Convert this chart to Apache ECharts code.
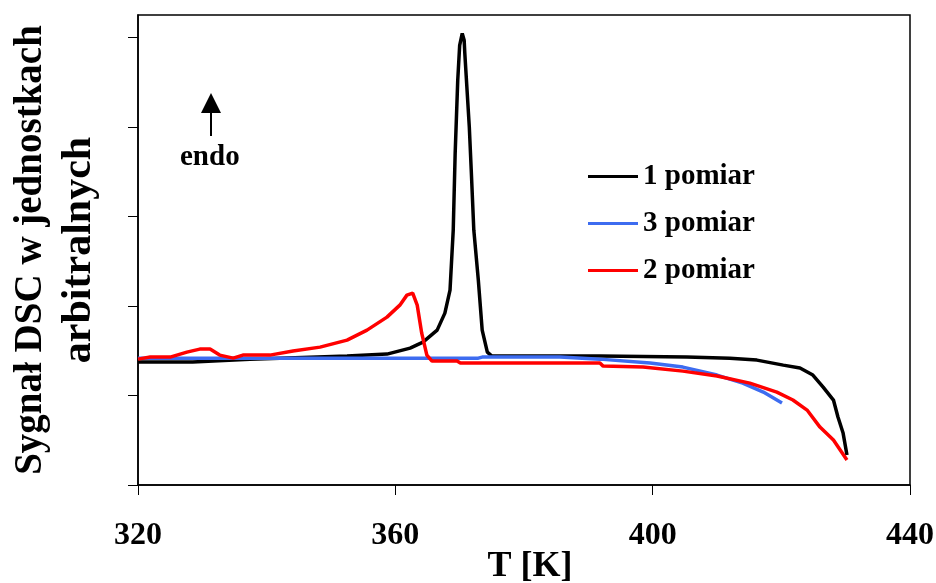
<!DOCTYPE html>
<html>
<head>
<meta charset="utf-8">
<script src="https://cdn.jsdelivr.net/npm/echarts@6/dist/echarts.min.js"></script>
<style>
  html, body { margin: 0; padding: 0; background: #fff; }
  #chart { width: 936px; height: 583px; }
</style>
</head>
<body>
<div id="chart"></div>
<script>
var serif = "'Liberation Serif', 'Times New Roman', serif";

// T [K], signal (arbitrary units)
var pomiar1 = [
  [320, 1.373], [328.5, 1.373], [337.4, 1.406], [352.5, 1.44], [358.7, 1.462],
  [362.3, 1.529], [364.3, 1.596], [366.5, 1.73], [367.7, 1.92], [368.5, 2.176],
  [369.0, 2.846], [369.3, 3.705], [369.7, 4.52], [370.0, 4.91], [370.4, 5.045],
  [370.7, 4.967], [370.8, 4.821], [371.5, 3.996], [371.8, 3.516], [372.2, 2.846],
  [372.9, 2.288], [373.5, 1.73], [374.3, 1.484], [375.0, 1.44], [391.8, 1.44],
  [405.3, 1.429], [412.0, 1.417], [416.2, 1.395], [420.3, 1.339], [422.9, 1.306],
  [424.9, 1.228], [426.5, 1.094], [428.1, 0.949], [428.8, 0.759], [429.6, 0.58],
  [430.2, 0.335]
];
var pomiar3 = [
  [320, 1.417], [372.9, 1.417], [373.5, 1.429], [385.6, 1.429], [391.8, 1.406],
  [399.6, 1.362], [404.7, 1.317], [410.0, 1.228], [414.0, 1.138], [417.2, 1.038],
  [420.1, 0.915]
];
var pomiar2 = [
  [320, 1.406], [321.9, 1.429], [325.0, 1.429], [327.6, 1.484], [329.6, 1.518],
  [331.2, 1.518], [332.7, 1.451], [334.8, 1.417], [336.3, 1.451], [340.5, 1.451],
  [344.1, 1.496], [348.3, 1.54], [352.5, 1.618], [355.6, 1.73], [358.7, 1.875],
  [360.7, 2.009], [361.8, 2.121], [362.7, 2.143], [363.4, 2.009], [364.1, 1.696],
  [364.9, 1.451], [365.7, 1.384], [369.6, 1.384], [370.1, 1.362], [391.8, 1.362],
  [392.3, 1.328], [398.5, 1.317], [404.7, 1.272], [410.0, 1.217], [415.1, 1.138],
  [419.3, 1.038], [421.8, 0.949], [424.0, 0.837], [426.0, 0.647], [428.1, 0.502],
  [430.2, 0.279]
];
var legendOrder = ['1 pomiar', '3 pomiar', '2 pomiar'];
var yTicks = [0, 1, 2, 3, 4, 5];

var chart = echarts.init(document.getElementById('chart'), null, { renderer: 'canvas' });
chart.setOption({
  animation: false,
  backgroundColor: '#fff',
  grid: {
    left: 138, top: 15, right: 26, bottom: 98,
    outerBoundsMode: 'none',
    containLabel: false,
    show: true, borderColor: '#000', borderWidth: 1.5
  },
  legend: {
    data: legendOrder,
    orient: 'vertical',
    left: 583,
    top: 156,
    icon: 'rect',
    itemWidth: 50,
    itemHeight: 3,
    itemGap: 16,
    textStyle: { fontFamily: serif, fontWeight: 'bold', fontSize: 29, color: '#000', lineHeight: 31 }
  },
  xAxis: {
    type: 'value',
    min: 320, max: 440, interval: 40,
    name: 'T [K]',
    nameLocation: 'middle',
    nameGap: 64,
    nameMoveOverlap: false,
    nameTextStyle: { fontFamily: serif, fontWeight: 'bold', fontSize: 36, color: '#000', padding: [0, 0, 0, 12] },
    axisLine: { show: true, lineStyle: { color: '#000', width: 1.5 } },
    axisTick: { show: true, length: 10, lineStyle: { color: '#000', width: 1 } },
    axisLabel: { fontFamily: serif, fontWeight: 'bold', fontSize: 32, color: '#000', margin: 35 },
    splitLine: { show: false }
  },
  yAxis: {
    type: 'value',
    min: 0, max: 5.25, interval: 1,
    name: 'Sygnał DSC w jednostkach\n{b|arbitralnych}',
    nameLocation: 'middle',
    nameRotate: 90,
    nameGap: 34,
    nameMoveOverlap: false,
    nameTextStyle: {
      fontFamily: serif, fontWeight: 'bold', fontSize: 39, color: '#000', lineHeight: 49,
      rich: { b: { fontFamily: serif, fontWeight: 'bold', fontSize: 42, color: '#000', lineHeight: 49 } }
    },
    axisLine: { show: true, lineStyle: { color: '#000', width: 1.5 } },
    axisTick: { show: true, length: 10, customValues: yTicks, lineStyle: { color: '#000', width: 1 } },
    axisLabel: { show: false },
    splitLine: { show: false }
  },
  graphic: [
    { type: 'line', shape: { x1: 211, y1: 112, x2: 211, y2: 136 }, style: { stroke: '#000', lineWidth: 2 } },
    { type: 'polygon', shape: { points: [[211, 93], [201, 113], [221, 113]] }, style: { fill: '#000' } },
    { type: 'text', left: 180, top: 143, style: { text: 'endo', font: 'bold 29px ' + serif, fill: '#000' } }
  ],
  series: [
    { name: '1 pomiar', type: 'line', data: pomiar1, symbol: 'none', z: 2,
      lineStyle: { color: '#000', width: 3.5 }, itemStyle: { color: '#000' } },
    { name: '3 pomiar', type: 'line', data: pomiar3, symbol: 'none', z: 3,
      lineStyle: { color: '#3d6cf0', width: 3.5 }, itemStyle: { color: '#3d6cf0' } },
    { name: '2 pomiar', type: 'line', data: pomiar2, symbol: 'none', z: 4,
      lineStyle: { color: '#ff0000', width: 3.5 }, itemStyle: { color: '#ff0000' } }
  ]
});
window.addEventListener('resize', function() { chart.resize(); });
</script>
</body>
</html>
